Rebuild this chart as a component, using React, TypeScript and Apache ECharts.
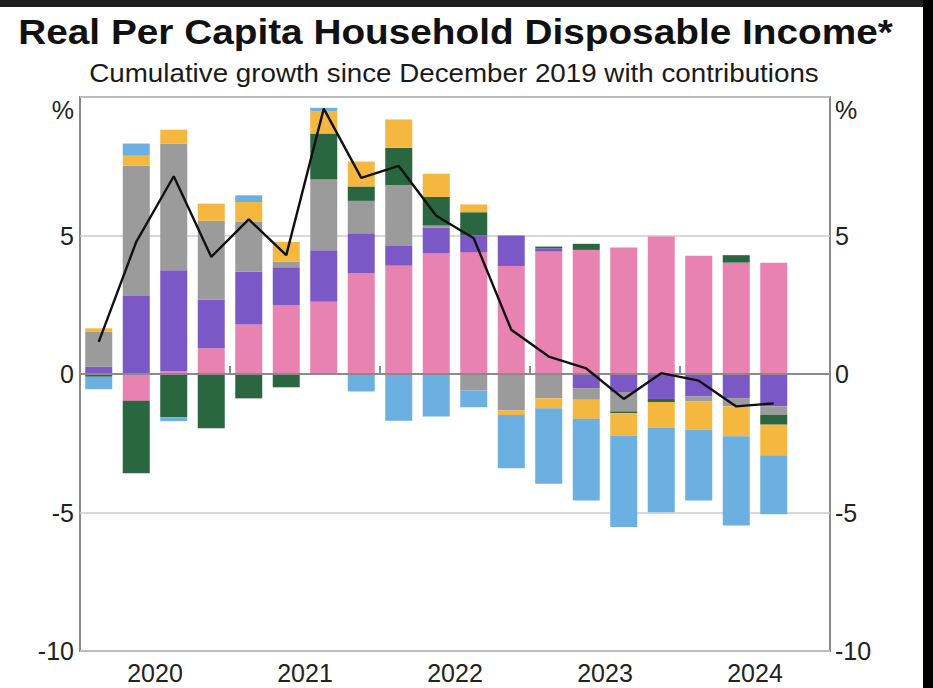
import React, { useEffect, useRef } from "react";
import * as echarts from "echarts";

const quarters = [
  "Mar-2020", "Jun-2020", "Sep-2020", "Dec-2020",
  "Mar-2021", "Jun-2021", "Sep-2021", "Dec-2021",
  "Mar-2022", "Jun-2022", "Sep-2022", "Dec-2022",
  "Mar-2023", "Jun-2023", "Sep-2023", "Dec-2023",
  "Mar-2024", "Jun-2024", "Sep-2024", "Dec-2024",
];
const years = ["2020", "2021", "2022", "2023", "2024"];
const yTicks = [-10, -5, 0, 5, 10];

const labourIncome = [0, -0.97, 0.1, 0.93, 1.79, 2.49, 2.61, 3.64, 3.91, 4.35, 4.4, 3.9, 4.42, 4.48, 4.57, 4.96, 4.27, 4.02, 4.02];
const socialAssistance = [0.26, 2.82, 3.65, 1.76, 1.9, 1.36, 1.86, 1.44, 0.71, 0.94, 0.6, 1.1, 0.12, -0.51, -0.65, -0.9, -0.81, -0.87, -1.17];
const otherIncome = [1.26, 4.71, 4.57, 2.84, 1.8, 0.2, 2.55, 1.17, 2.2, 0.07, -0.6, -1.32, -0.88, -0.42, -0.7, 0, -0.18, -0.3, -0.3];
const tax = [-0.1, -2.61, -1.56, -1.96, -0.88, -0.48, 1.66, 0.52, 1.35, 1.03, 0.84, 0, 0.06, 0.22, -0.06, -0.11, 0, 0.27, -0.36];
const netInterest = [0.13, 0.35, 0.5, 0.62, 0.72, 0.72, 0.81, 0.9, 1.02, 0.84, 0.28, -0.16, -0.36, -0.69, -0.81, -0.94, -1.02, -1.08, -1.1];
const pricesPopulation = [-0.45, 0.44, -0.14, 0, 0.24, 0, 0.12, -0.63, -1.69, -1.53, -0.6, -1.92, -2.72, -2.95, -3.3, -3.04, -2.56, -3.22, -2.13];
const totalGrowth = [1.16, 4.77, 7.14, 4.23, 5.58, 4.29, 9.58, 7.08, 7.51, 5.71, 4.9, 1.6, 0.63, 0.2, -0.9, 0.03, -0.24, -1.17, -1.06];

const barSeries = [
  { name: "Labour income", data: labourIncome, color: "#e882b1" },
  { name: "Social assistance", data: socialAssistance, color: "#7a59c6" },
  { name: "Other income", data: otherIncome, color: "#9b9b9b" },
  { name: "Tax", data: tax, color: "#2a6640" },
  { name: "Net interest", data: netInterest, color: "#f4b840" },
  { name: "Prices and population", data: pricesPopulation, color: "#6cb0e1" },
];

const FONT = "'Liberation Sans', Arial, Helvetica, sans-serif";

export default function App() {
  const ref = useRef<HTMLDivElement>(null);

  useEffect(() => {
    document.body.style.margin = "0";
    if (!ref.current) return;
    const chart = echarts.init(ref.current, undefined, { renderer: "svg" });

    const option: any = {
      animation: false,
      backgroundColor: "#ffffff",
      grid: {
        left: 80,
        right: 103,
        top: 97,
        bottom: 37,
        show: true,
        borderColor: "#8a8a8a",
        borderWidth: 2,
        backgroundColor: "transparent",
      },
      graphic: [
        { type: "rect", left: 0, top: 0, shape: { width: 933, height: 7 }, style: { fill: "#202020" }, z: 100 },
        { type: "rect", left: 923, top: 0, shape: { width: 10, height: 688 }, style: { fill: "#000000" }, z: 100 },
        {
          type: "text",
          x: 455.5,
          y: 32.5,
          scaleX: 1.108,
          style: {
            text: "Real Per Capita Household Disposable Income*",
            x: 0,
            y: 0,
            align: "center",
            verticalAlign: "middle",
            font: `bold 35px ${FONT}`,
            fill: "#111111",
          },
        },
        {
          type: "text",
          x: 454,
          y: 73.5,
          scaleX: 1.11,
          style: {
            text: "Cumulative growth since December 2019 with contributions",
            x: 0,
            y: 0,
            align: "center",
            verticalAlign: "middle",
            font: `25px ${FONT}`,
            fill: "#1a1a1a",
          },
        },
        {
          type: "text",
          x: 74,
          y: 110,
          style: { text: "%", x: 0, y: 0, align: "right", verticalAlign: "middle", font: `25px ${FONT}`, fill: "#222222" },
        },
        {
          type: "text",
          x: 835,
          y: 110,
          style: { text: "%", x: 0, y: 0, align: "left", verticalAlign: "middle", font: `25px ${FONT}`, fill: "#222222" },
        },
      ],
      xAxis: [
        {
          type: "category",
          data: quarters,
          position: "bottom",
          boundaryGap: true,
          axisLine: { show: false },
          axisLabel: { show: false },
          axisTick: {
            show: true,
            inside: true,
            length: 8,
            interval: (index: number) => index % 4 === 0,
            lineStyle: { color: "#8a8a8a", width: 2 },
          },
          splitLine: { show: false },
        },
        {
          type: "category",
          data: years,
          position: "bottom",
          boundaryGap: true,
          axisLine: { show: false },
          axisTick: { show: false },
          axisLabel: { show: true, fontSize: 25, margin: 9, lineHeight: 26, color: "#222222", fontFamily: FONT },
          splitLine: { show: false },
        },
      ],
      yAxis: [
        {
          type: "value",
          position: "left",
          min: yTicks[0],
          max: yTicks[yTicks.length - 1],
          interval: 5,
          axisLine: { show: false },
          axisTick: { show: false },
          axisLabel: {
            fontSize: 25,
            margin: 6,
            color: "#222222",
            fontFamily: FONT,
            formatter: (v: number) => (v === 10 ? "" : String(v)),
          },
          splitLine: { show: true, lineStyle: { color: "#cccccc", width: 1.5 } },
        },
        {
          type: "value",
          position: "right",
          min: yTicks[0],
          max: yTicks[yTicks.length - 1],
          interval: 5,
          axisLine: { show: false },
          axisTick: { show: false },
          axisLabel: {
            fontSize: 25,
            margin: 5,
            color: "#222222",
            fontFamily: FONT,
            formatter: (v: number) => (v === 10 ? "" : String(v)),
          },
          splitLine: { show: false },
        },
      ],
      series: [
        ...barSeries.map((s) => ({
          name: s.name,
          type: "bar",
          stack: "contrib",
          xAxisIndex: 0,
          yAxisIndex: 0,
          barWidth: 27,
          data: s.data,
          itemStyle: { color: s.color },
          emphasis: { disabled: true },
        })),
        {
          name: "Real per capita household disposable income",
          type: "line",
          xAxisIndex: 0,
          yAxisIndex: 0,
          data: totalGrowth,
          symbol: "none",
          z: 4,
          lineStyle: { color: "#111111", width: 2.4 },
          itemStyle: { color: "#111111" },
          markLine: {
            silent: true,
            symbol: "none",
            z: 3,
            label: { show: false },
            lineStyle: { color: "#8a8a8a", width: 2, type: "solid" },
            data: [{ yAxis: 0 }],
          },
        },
      ],
    };

    chart.setOption(option);
    return () => chart.dispose();
  }, []);

  return (
    <div style={{ position: "fixed", left: 0, top: 0, width: 933, height: 688, background: "#fff" }}>
      <div ref={ref} style={{ width: 933, height: 688 }} />
    </div>
  );
}
